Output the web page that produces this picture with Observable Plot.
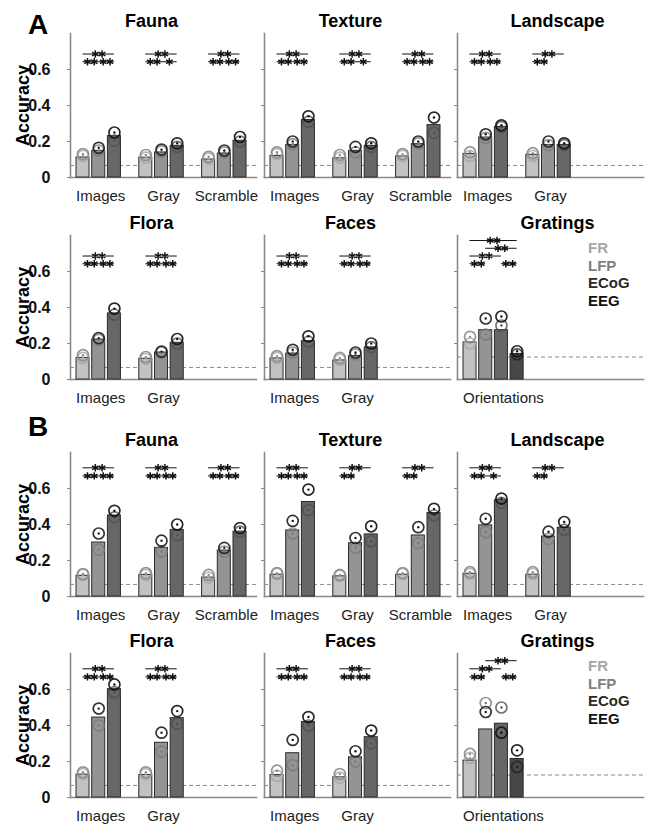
<!DOCTYPE html>
<html><head><meta charset="utf-8">
<script src="https://cdn.jsdelivr.net/npm/d3@7"></script>
<script src="https://cdn.jsdelivr.net/npm/@observablehq/plot@0.6"></script>
<style>
body{margin:0;background:#fff;font-family:"Liberation Sans",Arial,sans-serif;}
#fig{position:relative;width:649px;height:826px;overflow:hidden;background:#fff;}
.panel{position:absolute;}
.letter{position:absolute;font-weight:bold;font-size:28px;line-height:28px;}
.legend{position:absolute;font-weight:bold;font-size:15px;line-height:17.5px;}
</style></head><body><div id="fig"></div><script>
// ---------- data ----------
const series3 = ["FR", "LFP", "ECoG"];
const series4 = ["FR", "LFP", "ECoG", "EEG"];
const groupsFull = ["Images", "Gray", "Scramble"];
const groupsTwo = ["Images", "Gray"];
const groupsGratings = ["Orientations"];
const chanceObjects = 0.067;
const chanceGratings = 0.125;

// significance: [barA, barB, label, level]
const sigAll3 = [[0, 2, "**", 1], [0, 1, "**", 0], [1, 2, "**", 0]];
const sigRightSingle = [[0, 2, "**", 1], [0, 1, "**", 0], [1, 2, "*", 0]];
const sigLeftOnly = [[0, 2, "**", 1], [0, 1, "**", 0]];
const sigGratingsA = [[0, 3, "**", 3], [1, 3, "**", 2], [0, 2, "**", 1], [0, 1, "**", 0], [2, 3, "**", 0]];
const sigGratingsB = [[1, 3, "**", 2], [0, 2, "**", 1], [0, 1, "**", 0], [2, 3, "**", 0]];

// Section A
const aFaunaBars = [[0.111, 0.148, 0.23], [0.11, 0.139, 0.176], [0.10, 0.133, 0.204]];
const aFaunaSubj1 = [[0.13, 0.165, 0.25], [0.125, 0.155, 0.19], [0.115, 0.15, 0.225]];
const aFaunaSubj2 = [[0.12, 0.15, 0.205], [0.11, 0.145, 0.17], [0.105, 0.14, 0.2]];
const aFaunaSig = [sigAll3, sigRightSingle, sigAll3];

const aTextureBars = [[0.12, 0.181, 0.319], [0.107, 0.148, 0.176], [0.117, 0.185, 0.291]];
const aTextureSubj1 = [[0.14, 0.2, 0.34], [0.125, 0.17, 0.19], [0.13, 0.2, 0.333]];
const aTextureSubj2 = [[0.13, 0.185, 0.31], [0.11, 0.14, 0.17], [0.12, 0.19, 0.248]];
const aTextureSig = [sigAll3, sigRightSingle, sigAll3];

const aLandscapeBars = [[0.13, 0.222, 0.281], [0.126, 0.181, 0.181]];
const aLandscapeSubj1 = [[0.14, 0.24, 0.29], [0.135, 0.2, 0.19]];
const aLandscapeSubj2 = [[0.12, 0.22, 0.28], [0.12, 0.18, 0.18]];
const aLandscapeSig = [sigAll3, sigLeftOnly];

const aFloraBars = [[0.12, 0.222, 0.367], [0.115, 0.15, 0.204]];
const aFloraSubj1 = [[0.135, 0.23, 0.394], [0.125, 0.155, 0.225]];
const aFloraSubj2 = [[0.12, 0.22, 0.36], [0.115, 0.15, 0.2]];
const aFloraSig = [sigAll3, sigAll3];

const aFacesBars = [[0.117, 0.144, 0.213], [0.106, 0.13, 0.178]];
const aFacesSubj1 = [[0.13, 0.165, 0.24], [0.12, 0.15, 0.2]];
const aFacesSubj2 = [[0.12, 0.15, 0.21], [0.11, 0.14, 0.18]];
const aFacesSig = [sigAll3, sigAll3];

const aGratingsBars = [[0.206, 0.274, 0.274, 0.142]];
const aGratingsSubj1 = [[0.237, 0.339, 0.35, 0.157]];
const aGratingsSubj2 = [[0.2, 0.25, 0.3, 0.14]];
const aGratingsSig = [sigGratingsA];

// Section B
const bFaunaBars = [[0.115, 0.30, 0.45], [0.12, 0.27, 0.37], [0.105, 0.255, 0.36]];
const bFaunaSubj1 = [[0.125, 0.35, 0.476], [0.13, 0.31, 0.40], [0.12, 0.27, 0.38]];
const bFaunaSubj2 = [[0.12, 0.26, 0.44], [0.12, 0.25, 0.34], [0.105, 0.25, 0.36]];
const bFaunaSig = [sigAll3, sigAll3, sigAll3];

const bTextureBars = [[0.121, 0.367, 0.525], [0.112, 0.296, 0.345], [0.121, 0.339, 0.464]];
const bTextureSubj1 = [[0.13, 0.42, 0.594], [0.12, 0.325, 0.39], [0.13, 0.385, 0.487]];
const bTextureSubj2 = [[0.125, 0.35, 0.48], [0.115, 0.27, 0.307], [0.125, 0.296, 0.45]];
const bTextureSig = [sigAll3, sigLeftOnly, sigLeftOnly];

const bLandscapeBars = [[0.126, 0.395, 0.535], [0.121, 0.333, 0.382]];
const bLandscapeSubj1 = [[0.135, 0.432, 0.544], [0.135, 0.36, 0.414]];
const bLandscapeSubj2 = [[0.125, 0.357, 0.52], [0.125, 0.32, 0.37]];
const bLandscapeSig = [sigRightSingle, sigLeftOnly];

const bFloraBars = [[0.127, 0.444, 0.602], [0.125, 0.304, 0.441]];
const bFloraSubj1 = [[0.14, 0.494, 0.628], [0.14, 0.36, 0.48]];
const bFloraSubj2 = [[0.13, 0.40, 0.585], [0.13, 0.255, 0.41]];
const bFloraSig = [sigAll3, sigAll3];

const bFacesBars = [[0.125, 0.246, 0.419], [0.112, 0.223, 0.335]];
const bFacesSubj1 = [[0.149, 0.32, 0.447], [0.13, 0.257, 0.372]];
const bFacesSubj2 = [[0.12, 0.18, 0.40], [0.11, 0.2, 0.3]];
const bFacesSig = [sigAll3, sigAll3];

const bGratingsBars = [[0.205, 0.378, 0.41, 0.214]];
const bGratingsSubj1 = [[0.242, 0.475, 0.36, 0.262]];
const bGratingsSubj2 = [[0.22, 0.525, 0.5, 0.17]];
const bGratingsSig = [sigGratingsB];

const yTicks = [0, 0.2, 0.4, 0.6];

// ---------- styles / layout ----------
const barFill = {FR: "#c2c2c2", LFP: "#949494", ECoG: "#676767", EEG: "#474747"};
const subj1Stroke = {FR: "#8a8a8a", LFP: "#1e1e1e", ECoG: "#111111", EEG: "#111111"};
const subj2Stroke = {FR: "#a6a6a6", LFP: "#7a7a7a", ECoG: "#505050", EEG: "#222222"};
const legendColor = {FR: "#a6a6a6", LFP: "#7f7f7f", ECoG: "#2a2a2a", EEG: "#111111"};
const FONT = "'Liberation Sans', Arial, Helvetica, sans-serif";

const step = 15.7, pInner = 0.17, bw = step * (1 - pInner);
const frameW = 186, frameH = 144;
const colAxis = [70, 264, 457];
const titleDx = [81, 86, 100];
const rowTop = [33, 235, 452, 653];
const sigY = {A: [0.643, 0.043], B: [0.67, 0.045]};

const panels = [
  {sec: "A", row: 0, col: 0, title: "Fauna", groups: groupsFull, series: series3, bars: aFaunaBars, s1: aFaunaSubj1, s2: aFaunaSubj2, sig: aFaunaSig, chance: chanceObjects},
  {sec: "A", row: 0, col: 1, title: "Texture", groups: groupsFull, series: series3, bars: aTextureBars, s1: aTextureSubj1, s2: aTextureSubj2, sig: aTextureSig, chance: chanceObjects},
  {sec: "A", row: 0, col: 2, title: "Landscape", groups: groupsTwo, series: series3, bars: aLandscapeBars, s1: aLandscapeSubj1, s2: aLandscapeSubj2, sig: aLandscapeSig, chance: chanceObjects},
  {sec: "A", row: 1, col: 0, title: "Flora", groups: groupsTwo, series: series3, bars: aFloraBars, s1: aFloraSubj1, s2: aFloraSubj2, sig: aFloraSig, chance: chanceObjects},
  {sec: "A", row: 1, col: 1, title: "Faces", groups: groupsTwo, series: series3, bars: aFacesBars, s1: aFacesSubj1, s2: aFacesSubj2, sig: aFacesSig, chance: chanceObjects},
  {sec: "A", row: 1, col: 2, title: "Gratings", groups: groupsGratings, series: series4, bars: aGratingsBars, s1: aGratingsSubj1, s2: aGratingsSubj2, sig: aGratingsSig, chance: chanceGratings, legend: true},
  {sec: "B", row: 2, col: 0, title: "Fauna", groups: groupsFull, series: series3, bars: bFaunaBars, s1: bFaunaSubj1, s2: bFaunaSubj2, sig: bFaunaSig, chance: chanceObjects},
  {sec: "B", row: 2, col: 1, title: "Texture", groups: groupsFull, series: series3, bars: bTextureBars, s1: bTextureSubj1, s2: bTextureSubj2, sig: bTextureSig, chance: chanceObjects},
  {sec: "B", row: 2, col: 2, title: "Landscape", groups: groupsTwo, series: series3, bars: bLandscapeBars, s1: bLandscapeSubj1, s2: bLandscapeSubj2, sig: bLandscapeSig, chance: chanceObjects},
  {sec: "B", row: 3, col: 0, title: "Flora", groups: groupsTwo, series: series3, bars: bFloraBars, s1: bFloraSubj1, s2: bFloraSubj2, sig: bFloraSig, chance: chanceObjects},
  {sec: "B", row: 3, col: 1, title: "Faces", groups: groupsTwo, series: series3, bars: bFacesBars, s1: bFacesSubj1, s2: bFacesSubj2, sig: bFacesSig, chance: chanceObjects},
  {sec: "B", row: 3, col: 2, title: "Gratings", groups: groupsGratings, series: series4, bars: bGratingsBars, s1: bGratingsSubj1, s2: bGratingsSubj2, sig: bGratingsSig, chance: chanceGratings, legend: true}
];

const fig = document.getElementById("fig");

function drawPanel(p) {
  const mL = p.col === 0 ? 70 : 8, mR = 4, mT = 30, mB = 30;
  const width = mL + frameW + mR, height = mT + frameH + mB;
  const slots = d3.range(3).flatMap(g => d3.range(4).map(s => `${g}-${s}`));
  const x0 = mL + 6;
  const x1 = x0 + step * (slots.length - pInner);

  const bars = p.groups.flatMap((g, gi) => p.series.map((s, si) => ({
    key: `${gi}-${si}`, series: s, v: p.bars[gi][si], s1: p.s1[gi][si], s2: p.s2[gi][si]
  })));
  const labels = p.groups.map((g, gi) => ({key: `${gi}-${Math.floor(p.series.length / 2)}`, g}));

  const [yb, ys] = sigY[p.sec];
  const lines = [], stars = [];
  p.groups.forEach((g, gi) => {
    (p.sig[gi] || []).forEach(([i, j, lab, lev]) => {
      const y = yb + lev * ys;
      lines.push({k1: `${gi}-${i}`, k2: `${gi}-${j}`, y});
      const c = (i + j) / 2, half = c % 1 !== 0 ? step / 2 : 0;
      const offs = lab === "**" ? [-3.4, 3.4] : [0];
      offs.forEach(o => stars.push({key: `${gi}-${Math.floor(c)}`, y, off: +(half + o).toFixed(2)}));
    });
  });
  const offGroups = d3.groups(stars, d => d.off);

  const marks = [
    Plot.ruleY([p.chance], {stroke: "#8a8a8a", strokeWidth: 1, strokeDasharray: "4,3"}),
    Plot.frame({anchor: "left", stroke: "#8a8a8a", strokeWidth: 1.6}),
    Plot.frame({anchor: "bottom", stroke: "#8a8a8a", strokeWidth: 1.6}),
    p.col === 0
      ? Plot.axisY({ticks: yTicks, tickSize: 3, tickPadding: 17, stroke: "#8a8a8a", tickFormat: d => d === 0 ? "0" : d3.format(".1f")(d), fontSize: 16, fontWeight: "bold", fill: "#111"})
      : Plot.axisY({ticks: yTicks.slice(1), tickSize: 3, stroke: "#8a8a8a", tickFormat: () => ""}),
    Plot.barY(bars, {x: "key", y: "v", fill: d => barFill[d.series], stroke: "#2a2a2a", strokeWidth: 1}),
    Plot.dot(bars, {x: "key", y: "s2", r: 5.5, stroke: d => subj2Stroke[d.series], strokeWidth: 1.7, strokeOpacity: 0.8, fill: "none"}),
    Plot.dot(bars, {x: "key", y: "s2", r: 1.2, fill: d => subj2Stroke[d.series]}),
    Plot.dot(bars, {x: "key", y: "s1", r: 5.5, stroke: d => subj1Stroke[d.series], strokeWidth: 1.7, strokeOpacity: 0.9, fill: "none"}),
    Plot.dot(bars, {x: "key", y: "s1", r: 1.2, fill: d => subj1Stroke[d.series]}),
    Plot.ruleY(lines, {x1: "k1", x2: "k2", y: "y", insetLeft: bw / 2, insetRight: bw / 2, stroke: "#111", strokeWidth: 1}),
    ...offGroups.map(([off, items]) => Plot.dot(items, {x: "key", y: "y", dx: off, symbol: "asterisk", r: 3.5, stroke: "#111", strokeWidth: 1.5})),
    Plot.text(labels, {x: "key", y: 0, text: "g", dy: 19, dx: 2, fontSize: 15, fill: "#222"}),
    Plot.text([p.title], {frameAnchor: "top-left", dx: titleDx[p.col], dy: -7, textAnchor: "middle", lineAnchor: "bottom", fontWeight: "bold", fontSize: 18, fill: "#000"})
  ];
  if (p.col === 0) marks.push(Plot.text(["Accuracy"], {frameAnchor: "left", dx: -47, rotate: -90, textAnchor: "middle", fontWeight: "bold", fontSize: 18, fill: "#000"}));

  const svg = Plot.plot({
    width, height, marginLeft: mL, marginRight: mR, marginTop: mT, marginBottom: mB,
    style: {background: "transparent", overflow: "visible", fontFamily: FONT},
    x: {type: "band", domain: slots, range: [x0, x1], paddingInner: pInner, paddingOuter: 0, round: false, axis: null},
    y: {domain: [0, 0.8], axis: null},
    color: {type: "identity"},
    marks
  });
  const div = document.createElement("div");
  div.className = "panel";
  div.style.left = (colAxis[p.col] - mL) + "px";
  div.style.top = (rowTop[p.row] - mT) + "px";
  div.appendChild(svg);
  fig.appendChild(div);

  if (p.legend) {
    const lg = document.createElement("div");
    lg.className = "legend";
    lg.style.left = "588px";
    lg.style.top = (rowTop[p.row] + 4) + "px";
    p.series.forEach(s => {
      const r = document.createElement("div");
      r.textContent = s;
      r.style.color = legendColor[s];
      lg.appendChild(r);
    });
    fig.appendChild(lg);
  }
}
panels.forEach(drawPanel);

[["A", 11], ["B", 413]].forEach(([t, top]) => {
  const l = document.createElement("div");
  l.className = "letter";
  l.textContent = t;
  l.style.left = "28px";
  l.style.top = top + "px";
  fig.appendChild(l);
});
</script></body></html>
